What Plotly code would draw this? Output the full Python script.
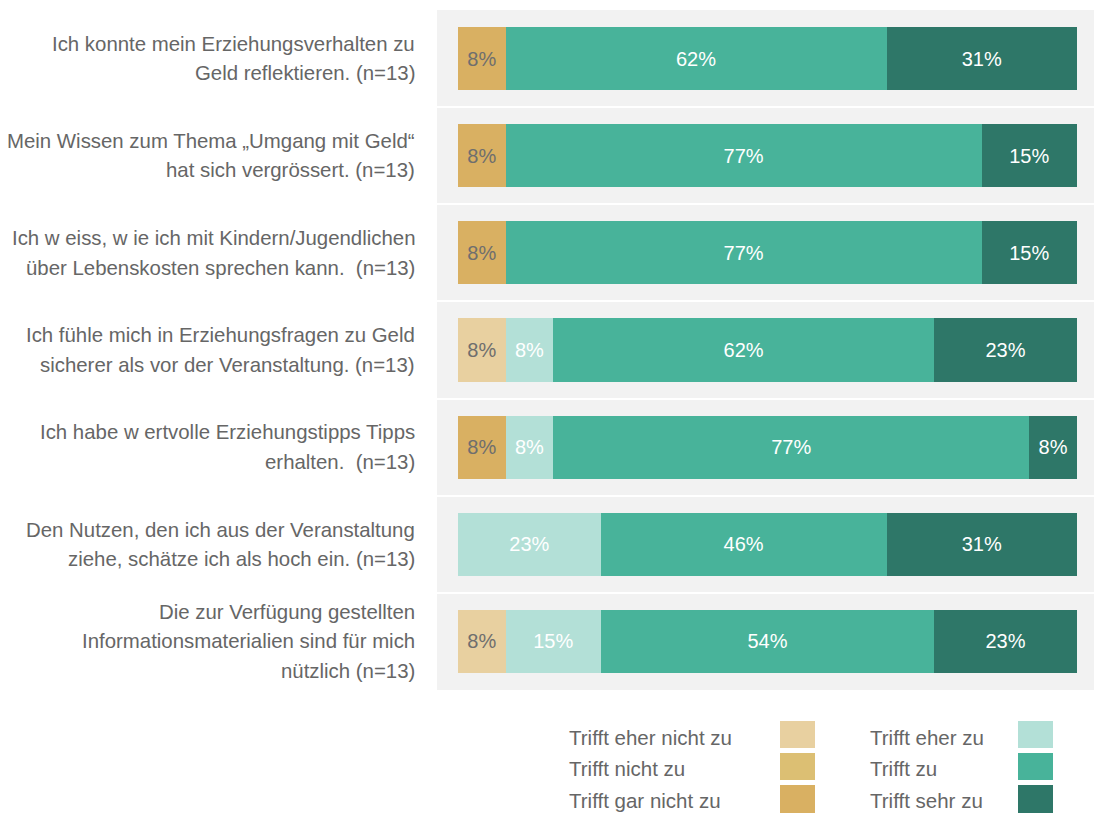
import plotly.graph_objects as go

N = 13
row_labels = [
    ["Ich konnte mein Erziehungsverhalten zu", "Geld reflektieren. (n=13)"],
    ["Mein Wissen zum Thema \u201eUmgang mit Geld\u201c", "hat sich vergr\u00f6ssert. (n=13)"],
    ["Ich w eiss, w ie ich mit Kindern/Jugendlichen", "\u00fcber Lebenskosten sprechen kann.  (n=13)"],
    ["Ich f\u00fchle mich in Erziehungsfragen zu Geld", "sicherer als vor der Veranstaltung. (n=13)"],
    ["Ich habe w ertvolle Erziehungstipps Tipps", "erhalten.  (n=13)"],
    ["Den Nutzen, den ich aus der Veranstaltung", "ziehe, sch\u00e4tze ich als hoch ein. (n=13)"],
    ["Die zur Verf\u00fcgung gestellten", "Informationsmaterialien sind f\u00fcr mich", "n\u00fctzlich (n=13)"],
]

categories = ["Trifft gar nicht zu", "Trifft nicht zu", "Trifft eher nicht zu",
              "Trifft eher zu", "Trifft zu", "Trifft sehr zu"]
# answer counts (out of N) per statement
gar_nicht = [1, 1, 1, 0, 1, 0, 0]
nicht = [0, 0, 0, 0, 0, 0, 0]
eher_nicht = [0, 0, 0, 1, 0, 0, 1]
eher_zu = [0, 0, 0, 1, 1, 3, 2]
zu = [8, 10, 10, 8, 10, 6, 7]
sehr_zu = [4, 2, 2, 3, 1, 4, 3]
series = [gar_nicht, nicht, eher_nicht, eher_zu, zu, sehr_zu]

colors = ["#d9b062", "#dcbf73", "#e8d0a0", "#b3e0d7", "#48b39a", "#2e7768"]
text_colors = ["#6e6e6e", "#6e6e6e", "#6e6e6e", "#ffffff", "#ffffff", "#ffffff"]

FONT = "Liberation Sans, Arial, sans-serif"
W, H = 1094, 816
L, R, T, B = 437, 0, 10, 126

fig = go.Figure()
rows = list(range(len(row_labels)))
for name, vals, col, tcol in zip(categories, series, colors, text_colors):
    pct = [v / N * 100 if v else None for v in vals]
    txt = [f"{round(p)}%" if p else "" for p in pct]
    fig.add_trace(go.Bar(
        y=rows, x=pct, orientation="h", name=name,
        marker=dict(color=col, line=dict(width=0)),
        width=0.65, text=txt, textposition="inside",
        insidetextanchor="middle", textangle=0,
        textfont=dict(color=tcol, size=20, family=FONT),
        hoverinfo="skip", showlegend=False,
    ))

def px_x(px):
    return (px - L) / (W - L - R)

def px_y(py):
    return (H - B - py) / (H - B - T)

annotations = []
line_gap = 29.5
for i, lines in enumerate(row_labels):
    n = len(lines)
    for j, line in enumerate(lines):
        shift = ((n - 1) / 2 - j) * line_gap
        annotations.append(dict(
            text=line, x=px_x(417), xref="paper", y=i, yref="y",
            xanchor="right", yanchor="middle", yshift=shift, showarrow=False,
            font=dict(size=20.4, color="#666666", family=FONT),
        ))

shapes = []
legend_cols = [(567, 780, 815), (868, 1018, 1053)]
legend_rows = [(737, 721, 748), (768, 753, 780), (800, 785, 813)]
legend_order = [
    ("Trifft eher nicht zu", colors[2]), ("Trifft nicht zu", colors[1]), ("Trifft gar nicht zu", colors[0]),
    ("Trifft eher zu", colors[3]), ("Trifft zu", colors[4]), ("Trifft sehr zu", colors[5]),
]
for k, (name, col) in enumerate(legend_order):
    tx, sx0, sx1 = legend_cols[k // 3]
    ty, sy0, sy1 = legend_rows[k % 3]
    annotations.append(dict(
        text=name, x=px_x(tx), xref="paper", y=px_y(ty), yref="paper",
        xanchor="left", yanchor="middle", showarrow=False,
        font=dict(size=20.5, color="#666666", family=FONT),
    ))
    shapes.append(dict(
        type="rect", xref="paper", yref="paper",
        x0=px_x(sx0), x1=px_x(sx1), y0=px_y(sy1), y1=px_y(sy0),
        fillcolor=col, line=dict(width=0),
    ))

fig.update_layout(
    barmode="stack", width=W, height=H,
    margin=dict(l=L, r=R, t=T, b=B, pad=0),
    paper_bgcolor="white", plot_bgcolor="#f2f2f2",
    font=dict(family=FONT, color="#666666"),
    xaxis=dict(range=[-3.4, 102.75], visible=False, fixedrange=True),
    yaxis=dict(range=[6.5, -0.5], tickvals=[0.5, 1.5, 2.5, 3.5, 4.5, 5.5],
               showticklabels=False, ticks="", showgrid=True, gridcolor="white",
               gridwidth=2, zeroline=False, showline=False, fixedrange=True),
    annotations=annotations, shapes=shapes, showlegend=False,
    uniformtext=dict(mode=False),
)

fig.write_html("out.html", config={"displayModeBar": False},
               post_script="document.body.style.margin='0';")
